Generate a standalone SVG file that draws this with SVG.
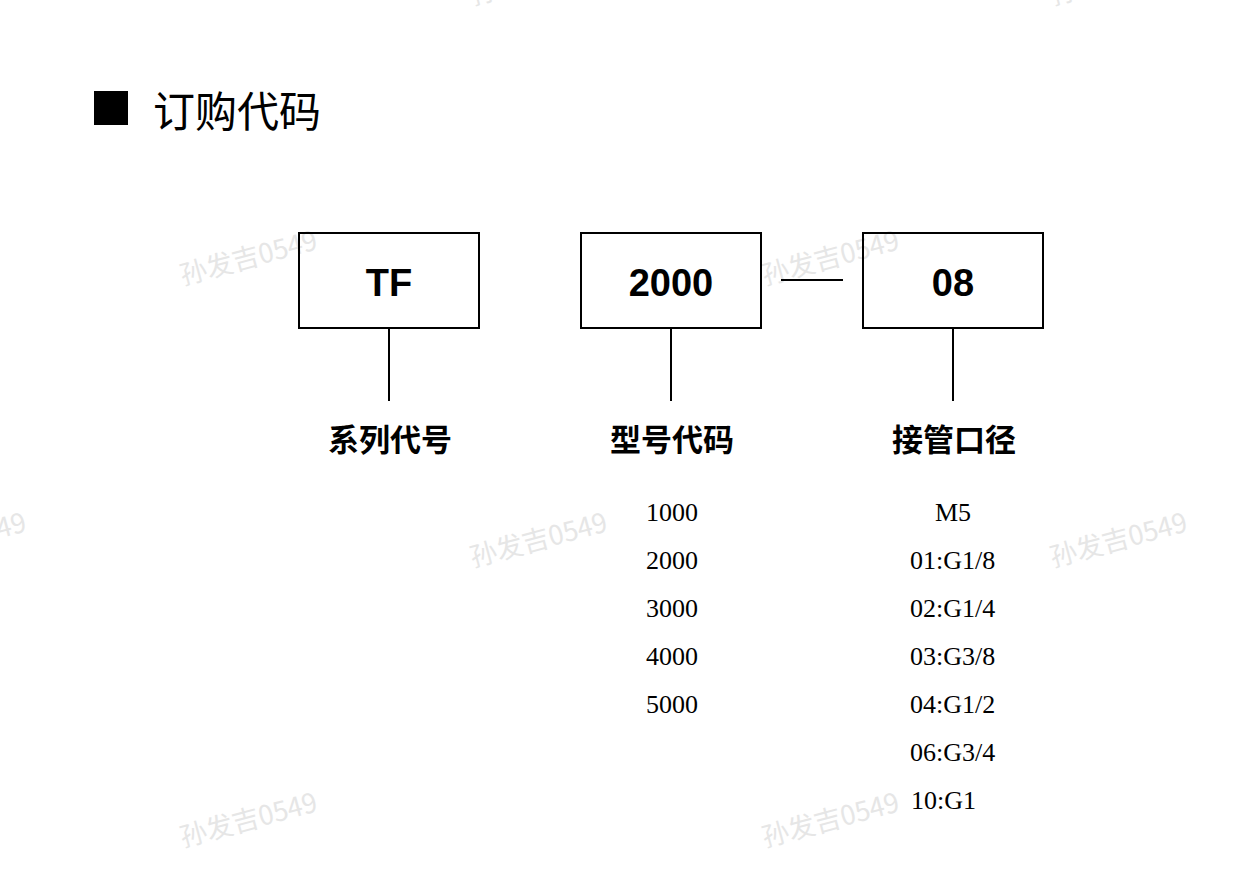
<svg xmlns="http://www.w3.org/2000/svg" width="1256" height="878" viewBox="0 0 1256 878">
<style>
.wm{font-family:"Noto Sans CJK SC","Liberation Sans",sans-serif;font-size:27px;fill:#e6e6e6;text-anchor:middle}
.box{fill:none;stroke:#000;stroke-width:2}
.code{font-family:"Liberation Sans",Arial,sans-serif;font-weight:bold;font-size:38px;text-anchor:middle;fill:#000}
.lbl{font-family:"Noto Sans CJK SC",sans-serif;font-weight:bold;font-size:31px;text-anchor:middle;fill:#000}
.item{font-family:"Liberation Serif","Times New Roman",serif;font-size:26px;fill:#000}
.conn{stroke:#000;stroke-width:2;fill:none}
</style>
<rect width="1256" height="878" fill="#fff"/>
<g id="watermarks">
<text class="wm" transform="translate(251,267) rotate(-15)">孙发吉0549</text>
<text class="wm" transform="translate(833,267) rotate(-15)">孙发吉0549</text>
<text class="wm" transform="translate(541,549) rotate(-15)">孙发吉0549</text>
<text class="wm" transform="translate(1121,549) rotate(-15)">孙发吉0549</text>
<text class="wm" transform="translate(-40,549) rotate(-15)">孙发吉0549</text>
<text class="wm" transform="translate(251,829) rotate(-15)">孙发吉0549</text>
<text class="wm" transform="translate(833,829) rotate(-15)">孙发吉0549</text>
<text class="wm" transform="translate(541,-13) rotate(-15)">孙发吉0549</text>
<text class="wm" transform="translate(1121,-13) rotate(-15)">孙发吉0549</text>
</g>
<g id="title">
<rect x="94" y="91" width="34" height="34" fill="#000"/>
<text x="153" y="127" font-family="Noto Sans CJK SC,sans-serif" font-size="42" fill="#000">订购代码</text>
</g>
<g id="connectors">
<line class="conn" x1="389" y1="329" x2="389" y2="401"/>
<line class="conn" x1="671" y1="329" x2="671" y2="401"/>
<line class="conn" x1="953" y1="329" x2="953" y2="401"/>
<line class="conn" x1="781" y1="280" x2="843" y2="280"/>
</g>
<g id="node-tf">
<rect class="box" x="299" y="233" width="180" height="95"/>
<text class="code" x="389" y="296">TF</text>
</g>
<g id="node-2000">
<rect class="box" x="581" y="233" width="180" height="95"/>
<text class="code" x="671" y="296">2000</text>
</g>
<g id="node-08">
<rect class="box" x="863" y="233" width="180" height="95"/>
<text class="code" x="953" y="296">08</text>
</g>
<g id="label-series">
<text class="lbl" x="390" y="451">系列代号</text>
</g>
<g id="label-model">
<text class="lbl" x="672" y="451">型号代码</text>
</g>
<g id="label-port">
<text class="lbl" x="954" y="451">接管口径</text>
</g>
<g id="model-list" text-anchor="middle">
<text class="item" x="672" y="521">1000</text>
<text class="item" x="672" y="569">2000</text>
<text class="item" x="672" y="617">3000</text>
<text class="item" x="672" y="665">4000</text>
<text class="item" x="672" y="713">5000</text>
</g>
<g id="port-list">
<text class="item" x="953" y="521" text-anchor="middle">M5</text>
<text class="item" x="910" y="569">01:G1/8</text>
<text class="item" x="910" y="617">02:G1/4</text>
<text class="item" x="910" y="665">03:G3/8</text>
<text class="item" x="910" y="713">04:G1/2</text>
<text class="item" x="910" y="761">06:G3/4</text>
<text class="item" x="911" y="809">10:G1</text>
</g>
</svg>
